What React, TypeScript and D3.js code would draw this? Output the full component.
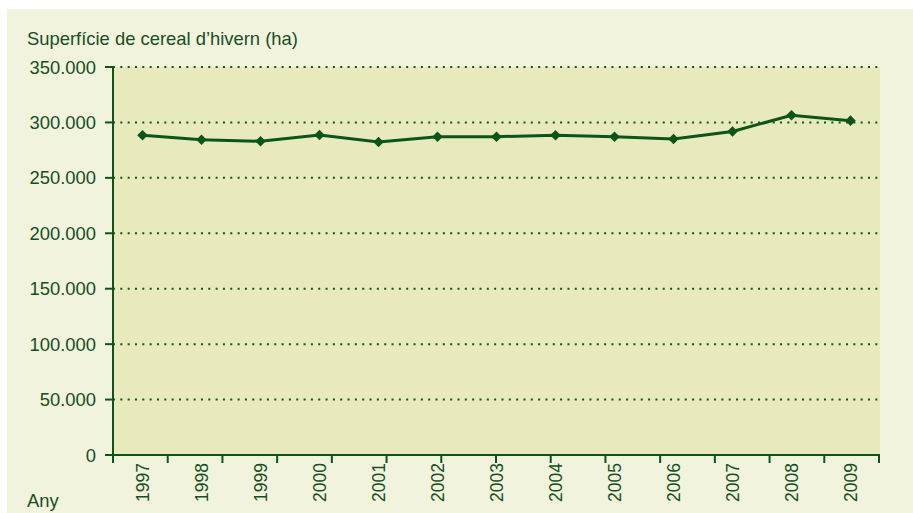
import React from "react";
import * as d3 from "d3";

const years = ["1997", "1998", "1999", "2000", "2001", "2002", "2003", "2004", "2005", "2006", "2007", "2008", "2009"];
const area = [288500, 284300, 283000, 288700, 282300, 287100, 287100, 288500, 287100, 285000, 291800, 306500, 301600];
const yTicks = [0, 50000, 100000, 150000, 200000, 250000, 300000, 350000];

const W = 913;
const H = 513;
const left = 113;
const right = 880;
const top = 67;
const bottom = 455;
const green = "#0b5519";
const textColor = "#174f24";
const font = "'Liberation Sans', Arial, Helvetica, sans-serif";

const fmt = (v: number) => (v === 0 ? "0" : d3.format(",")(v).replace(/,/g, "."));

export default function App() {
  const x = d3.scaleBand<string>().domain(years).range([left, right]);
  const y = d3.scaleLinear().domain([0, 350000]).range([bottom, top]);
  const cx = (i: number) => (x(years[i]) as number) + x.bandwidth() / 2;
  const line = d3
    .line<number>()
    .x((_, i) => cx(i))
    .y((d) => y(d));
  // the category axis ticks in the original are spaced in 14 steps
  const tickX = d3.scaleLinear().domain([0, 14]).range([left, right - 1]);
  const diamond = d3.symbol().type(d3.symbolSquare).size(56)();

  return (
    <svg width={W} height={H} style={{ position: "absolute", left: 0, top: 0, display: "block" }}>
      <rect x={7} y={9} width={W - 7} height={H - 9} fill="#f2f3dc" />
      <rect x={left} y={top} width={right - left} height={bottom - top} fill="#e8eabd" />
      <text x={27} y={45} fontFamily={font} fontSize={18.4} fill={textColor}>
        Superfície de cereal d’hivern (ha)
      </text>
      {yTicks.map((t) => (
        <g key={t}>
          {t > 0 && (
            <line x1={left} x2={right} y1={y(t)} y2={y(t)} stroke={green} strokeWidth={2} strokeDasharray="2 5.33" />
          )}
          <line x1={left - 8} x2={left} y1={y(t)} y2={y(t)} stroke={green} strokeWidth={2} />
          <text x={96} y={y(t)} dy="0.36em" textAnchor="end" fontFamily={font} fontSize={18.4} fill={textColor}>
            {fmt(t)}
          </text>
        </g>
      ))}
      <line x1={left} x2={left} y1={top} y2={bottom + 1} stroke={green} strokeWidth={2} />
      <line x1={left - 8} x2={right} y1={bottom} y2={bottom} stroke={green} strokeWidth={2} />
      {d3.range(15).map((i) => (
        <line key={i} x1={tickX(i)} x2={tickX(i)} y1={bottom} y2={bottom + 8} stroke={green} strokeWidth={2} />
      ))}
      {years.map((yr, i) => (
        <text
          key={yr}
          transform={`translate(${cx(i) + 6},${463}) rotate(-90)`}
          textAnchor="end"
          fontFamily={font}
          fontSize={17.5}
          fill={textColor}
        >
          {yr}
        </text>
      ))}
      <text x={27} y={507} fontFamily={font} fontSize={18.4} fill={textColor}>
        Any
      </text>
      <path d={line(area) || ""} fill="none" stroke={green} strokeWidth={3} />
      {area.map((v, i) => (
        <path
          key={years[i]}
          d={diamond || ""}
          transform={`translate(${cx(i)},${y(v)}) rotate(45)`}
          fill={green}
        />
      ))}
    </svg>
  );
}
